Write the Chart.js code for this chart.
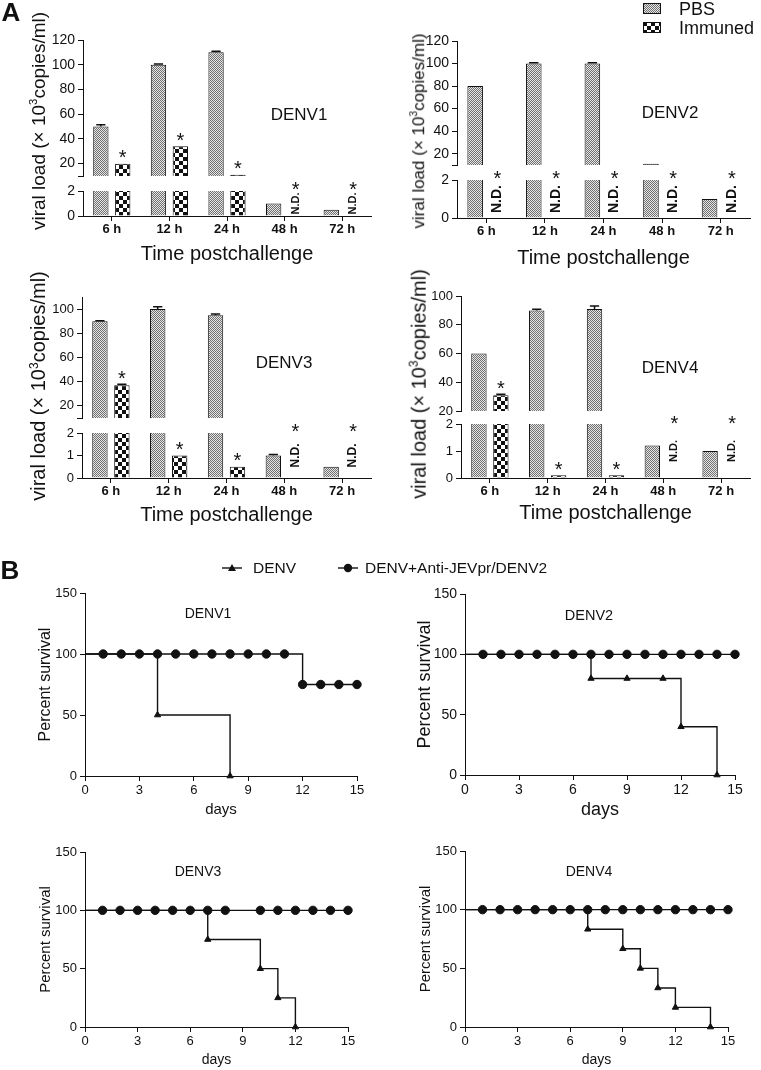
<!DOCTYPE html>
<html>
<head>
<meta charset="utf-8">
<script src="https://cdn.jsdelivr.net/npm/chart.js@4.4.0/dist/chart.umd.min.js"></script>
<style>
  body { margin: 0; width: 761px; height: 1070px; background: #fff; position: relative; overflow: hidden;
         font-family: "Liberation Sans", Arial, Helvetica, sans-serif; color: #111; }
  canvas { position: absolute; }
  .txt { position: absolute; white-space: nowrap; line-height: 1; }
  .txt sup { font-size: 0.6em; }
</style>
</head>
<body>
<script>
// ---- panel A: viral load (x10^3 copies/ml); null = not detected (N.D.)
const hours = ['6 h', '12 h', '24 h', '48 h', '72 h'];
const pbs1 = [50, 100, 110, 1, 0.5];
const imm1 = [20, 34, 11, null, null];
const pbs1Err = [1.5, 0.6, 0.8, 0, 0];
const imm1Err = [0, 0, 0, 0, 0];
const pbs2 = [80, 100, 100, 11, 1];
const imm2 = [null, null, null, null, null];
const pbs2Err = [0, 0.8, 0.8, 0, 0];
const imm2Err = [0, 0, 0, 0, 0];
const pbs3 = [90, 100, 95, 1, 0.5];
const imm3 = [37, 1, 0.5, null, null];
const pbs3Err = [0.4, 2, 1, 0.04, 0];
const imm3Err = [0.8, 0, 0, 0, 0];
const pbs4 = [60, 90, 91, 1.2, 1];
const imm4 = [31, 0.1, 0.1, null, null];
const pbs4Err = [0, 0.7, 2, 0, 0];
const imm4Err = [0.6, 0, 0, 0, 0];
const sigAll = [true, true, true, true, true];
const upTicks12 = [20, 40, 60, 80, 100, 120];
const upTicks3 = [20, 40, 60, 80, 100];
const upTicks4 = [20, 40, 60, 80, 100];
const upRange12 = [10, 120];
const upRange3 = [10, 110];
const upRange4 = [20, 100];
const lowTicks = [0, 1, 2];

// ---- panel B: percent survival
const dayTicks = [0, 3, 6, 9, 12, 15];
const survTicks = [0, 50, 100, 150];
const b1DenvDays = [0, 1, 2, 3, 4, 8];
const b1Denv = [100, 100, 100, 100, 50, 0];
const b1AntiDays = [0, 1, 2, 3, 4, 5, 6, 7, 8, 9, 10, 11, 12, 13, 14, 15];
const b1Anti = [100, 100, 100, 100, 100, 100, 100, 100, 100, 100, 100, 100, 75, 75, 75, 75];
const b2DenvDays = [0, 1, 2, 3, 4, 7, 9, 11, 12, 14];
const b2Denv = [100, 100, 100, 100, 100, 80, 80, 80, 40, 0];
const b2AntiDays = [0, 1, 2, 3, 4, 5, 6, 7, 8, 9, 10, 11, 12, 13, 14, 15];
const b2Anti = [100, 100, 100, 100, 100, 100, 100, 100, 100, 100, 100, 100, 100, 100, 100, 100];
const b3DenvDays = [0, 1, 2, 3, 4, 5, 6, 7, 10, 11, 12];
const b3Denv = [100, 100, 100, 100, 100, 100, 100, 75, 50, 25, 0];
const b3AntiDays = [0, 1, 2, 3, 4, 5, 6, 7, 8, 10, 11, 12, 13, 14, 15];
const b3Anti = [100, 100, 100, 100, 100, 100, 100, 100, 100, 100, 100, 100, 100, 100, 100];
const b4DenvDays = [0, 1, 2, 3, 4, 5, 6, 7, 9, 10, 11, 12, 14];
const b4Denv = [100, 100, 100, 100, 100, 100, 100, 83.3, 66.7, 50, 33.3, 16.7, 0];
const b4AntiDays = [0, 1, 2, 3, 4, 5, 6, 7, 8, 9, 10, 11, 12, 13, 14, 15];
const b4Anti = [100, 100, 100, 100, 100, 100, 100, 100, 100, 100, 100, 100, 100, 100, 100, 100];

const ink = '#111';
Chart.defaults.font.family = '"Liberation Sans", Arial, Helvetica, sans-serif';
Chart.defaults.color = ink;

const axisGrid = { display: true, drawOnChartArea: false, drawTicks: true, tickLength: 5, color: ink, lineWidth: 1 };
const axisBorder = { display: true, color: ink, width: 1 };

function tile(kind) {
  const c = document.createElement('canvas');
  const g = c.getContext('2d');
  if (kind === 'pbs') {
    c.width = c.height = 2;
    g.fillStyle = '#e6e6e6'; g.fillRect(0, 0, 2, 2);
    g.fillStyle = '#707070'; g.fillRect(0, 0, 1, 1); g.fillRect(1, 1, 1, 1);
  } else {
    c.width = c.height = 8;
    g.fillStyle = '#fff'; g.fillRect(0, 0, 8, 8);
    g.fillStyle = ink; g.fillRect(0, 0, 4, 4); g.fillRect(4, 4, 4, 4);
  }
  return c;
}
const pbsTile = tile('pbs');
const immTile = tile('imm');

function addCanvas(x, y, w, h) {
  const cv = document.createElement('canvas');
  cv.width = w; cv.height = h;
  cv.style.left = x + 'px'; cv.style.top = y + 'px';
  document.body.appendChild(cv);
  return cv;
}

function label(html, x, y, size, opts = {}) {
  const d = document.createElement('div');
  d.className = 'txt';
  d.innerHTML = html;
  d.style.left = x + 'px';
  d.style.top = y + 'px';
  d.style.fontSize = size + 'px';
  if (opts.bold) d.style.fontWeight = 'bold';
  const tr = opts.left ? 'translate(0,-50%)' : 'translate(-50%,-50%)';
  d.style.transform = tr + (opts.rot ? ' rotate(-90deg)' : '');
  document.body.appendChild(d);
}

// error caps, asterisks and N.D. marks for the broken-axis bar panels
function marks(p, part) {
  const lowMax = lowTicks[lowTicks.length - 1];
  const inPart = v => (part === 'up' ? v > lowMax : v <= lowMax);
  return {
    id: 'marks',
    afterDatasetsDraw(chart) {
      const g = chart.ctx, ys = chart.scales.y, area = chart.chartArea;
      g.save();
      g.fillStyle = ink; g.strokeStyle = ink; g.lineWidth = 1.5;
      [[p.pbs, p.pbsErr], [p.imm, p.immErr]].forEach(([vals, errs], di) => {
        const bars = chart.getDatasetMeta(di).data;
        vals.forEach((v, i) => {
          const b = bars[i];
          if (v !== null && errs[i] > 0 && inPart(v)) {
            const y0 = ys.getPixelForValue(v), y1 = ys.getPixelForValue(v + errs[i]);
            const hw = b.width * 0.3;
            g.beginPath();
            g.moveTo(b.x, y0); g.lineTo(b.x, y1);
            g.moveTo(b.x - hw, y1); g.lineTo(b.x + hw, y1);
            g.stroke();
          }
          if (di !== 1) return;
          if (p.sig[i]) {
            let sy = null;
            if (v === null) { if (part === 'low') sy = area.top - p.gap / 2; }
            else if (inPart(v)) sy = ys.getPixelForValue(v + errs[i]) - 11.5;
            if (sy !== null) {
              g.font = '20px "Liberation Sans", Arial';
              g.textAlign = 'center'; g.textBaseline = 'alphabetic';
              g.fillText('*', b.x, sy + 12);
            }
          }
          if (v === null && part === 'low') {
            g.save();
            g.translate(b.x, (area.top + area.bottom) / 2);
            g.rotate(-Math.PI / 2);
            g.font = 'bold ' + p.ndSize + 'px "Liberation Sans", Arial';
            g.textAlign = 'center'; g.textBaseline = 'middle';
            g.fillText('N.D.', 0, 0);
            g.restore();
          }
        });
      });
      g.restore();
    }
  };
}

function loadChart(p, part) {
  const YW = 40, PT = 15, PR = 10, XH = 55;
  const up = part === 'up';
  const top = up ? p.uTop : p.lTop, bot = up ? p.uBot : p.lBot;
  const cv = addCanvas(p.ax - YW, top - PT, p.ar - p.ax + YW + PR, bot - top + PT + (up ? 15 : XH));
  const g = cv.getContext('2d');
  const range = up ? p.upRange : [lowTicks[0], lowTicks[lowTicks.length - 1]];
  const shown = up ? p.upTicks : lowTicks;
  const barStyle = { borderColor: ink, borderWidth: 1, clip: 0, categoryPercentage: 0.76, barPercentage: 0.7 };
  new Chart(cv, {
    type: 'bar',
    data: {
      labels: hours,
      datasets: [
        Object.assign({ label: 'PBS', data: p.pbs, backgroundColor: g.createPattern(pbsTile, 'repeat') }, barStyle),
        Object.assign({ label: 'Immuned', data: p.imm, backgroundColor: g.createPattern(immTile, 'repeat') }, barStyle)
      ]
    },
    options: {
      responsive: false,
      animation: false,
      events: [],
      layout: { padding: { left: 0, right: PR, top: PT, bottom: up ? 15 : 0 } },
      plugins: { legend: { display: false }, tooltip: { enabled: false }, colors: { enabled: false } },
      scales: {
        x: {
          display: !up,
          offset: true,
          grid: Object.assign({}, axisGrid, { offset: false }),
          border: axisBorder,
          ticks: { font: { size: 13, weight: 'bold' }, padding: 1, autoSkip: false, maxRotation: 0 },
          title: { display: true, text: 'Time postchallenge', font: { size: 20 },
                   padding: { top: 0, bottom: XH - p.titleD - 20 * 0.6 } },
          afterFit: up ? undefined : s => { s.height = XH; }
        },
        y: {
          min: range[0], max: range[1],
          grid: axisGrid,
          border: axisBorder,
          ticks: { font: { size: p.tickSize }, padding: 3, callback: v => (shown.includes(v) ? v : '') },
          afterBuildTicks: s => {
            s.ticks = [range[0]].concat(shown.filter(v => v !== range[0])).map(v => ({ value: v }));
          },
          afterFit: s => { s.width = YW; }
        }
      }
    },
    plugins: [marks(p, part)]
  });
}

function survChart(q) {
  const YW = 60, PT = 12, PR = 14, XH = 45;
  const cv = addCanvas(q.left - YW, q.top - PT, q.right - q.left + YW + PR, q.bottom - q.top + PT + XH);
  const pts = (days, vals) => days.map((d, i) => ({ x: d, y: vals[i] }));
  const radius = r => c => (c.raw && c.raw.x === 0 ? 0 : r);
  const lineStyle = { stepped: 'before', borderColor: ink, borderWidth: 1.4, backgroundColor: ink,
                      pointBorderColor: ink, pointBackgroundColor: ink, pointBorderWidth: 1, clip: false, tension: 0 };
  new Chart(cv, {
    type: 'line',
    data: {
      datasets: [
        Object.assign({ label: 'DENV', data: pts(q.denvDays, q.denv), pointStyle: 'triangle', pointRadius: radius(3.6), order: 1 }, lineStyle),
        Object.assign({ label: 'DENV+Anti-JEVpr/DENV2', data: pts(q.antiDays, q.anti), pointStyle: 'circle', pointRadius: radius(4.2), order: 0 }, lineStyle)
      ]
    },
    options: {
      responsive: false,
      animation: false,
      events: [],
      layout: { padding: { left: 0, right: PR, top: PT, bottom: 0 } },
      plugins: { legend: { display: false }, tooltip: { enabled: false }, colors: { enabled: false } },
      scales: {
        x: {
          type: 'linear', min: 0, max: 15,
          grid: axisGrid, border: axisBorder,
          afterBuildTicks: s => { s.ticks = dayTicks.map(v => ({ value: v })); },
          ticks: { font: { size: q.tickSize }, padding: 2 },
          title: { display: true, text: 'days', font: { size: q.xSize },
                   padding: { top: 0, bottom: XH - q.xD - q.xSize * 0.6 } },
          afterFit: s => { s.height = XH; }
        },
        y: {
          min: 0, max: 150,
          grid: axisGrid, border: axisBorder,
          afterBuildTicks: s => { s.ticks = survTicks.map(v => ({ value: v })); },
          ticks: { font: { size: q.tickSize }, padding: 3 },
          title: { display: true, text: 'Percent survival', font: { size: q.ySize },
                   padding: { top: YW - q.yD - q.ySize * 0.6, bottom: 0 } },
          afterFit: s => { s.width = YW; }
        }
      }
    }
  });
}

const panelsA = [
  { name: 'DENV1', pbs: pbs1, imm: imm1, pbsErr: pbs1Err, immErr: imm1Err, sig: sigAll,
    upTicks: upTicks12, upRange: upRange12, ax: 83, ar: 371, uTop: 40, uBot: 176, lTop: 191, lBot: 216,
    tickSize: 14, titleD: 38, ndSize: 11, yt: [38, 121, 19], nl: [299, 114] },
  { name: 'DENV2', pbs: pbs2, imm: imm2, pbsErr: pbs2Err, immErr: imm2Err, sig: sigAll,
    upTicks: upTicks12, upRange: upRange12, ax: 457, ar: 750, uTop: 41, uBot: 165, lTop: 180, lBot: 218,
    tickSize: 14, titleD: 40, ndSize: 14, yt: [418, 131, 17], nl: [670, 112] },
  { name: 'DENV3', pbs: pbs3, imm: imm3, pbsErr: pbs3Err, immErr: imm3Err, sig: sigAll,
    upTicks: upTicks3, upRange: upRange3, ax: 82, ar: 371, uTop: 297, uBot: 418, lTop: 433, lBot: 478,
    tickSize: 13, titleD: 37, ndSize: 12, yt: [38, 386, 20], nl: [284, 362] },
  { name: 'DENV4', pbs: pbs4, imm: imm4, pbsErr: pbs4Err, immErr: imm4Err, sig: sigAll,
    upTicks: upTicks4, upRange: upRange4, ax: 461, ar: 750, uTop: 296, uBot: 411, lTop: 424, lBot: 478,
    tickSize: 13, titleD: 35, ndSize: 11, yt: [418, 384, 20], nl: [670, 367] }
];

panelsA.forEach(p => {
  p.gap = p.lTop - p.uBot;
  loadChart(p, 'up');
  loadChart(p, 'low');
  label('viral load (× 10<sup>3</sup>copies/ml)', p.yt[0], p.yt[1], p.yt[2], { rot: true });
  label(p.name, p.nl[0], p.nl[1], 17);
});

const panelsB = [
  { name: 'DENV1', denvDays: b1DenvDays, denv: b1Denv, antiDays: b1AntiDays, anti: b1Anti,
    left: 85, right: 357, top: 593, bottom: 776, tickSize: 13, xSize: 15, xD: 34, ySize: 16, yD: 39, nl: [208, 613, 14] },
  { name: 'DENV2', denvDays: b2DenvDays, denv: b2Denv, antiDays: b2AntiDays, anti: b2Anti,
    left: 465, right: 735, top: 594, bottom: 775, tickSize: 14, xSize: 18, xD: 35, ySize: 18, yD: 40, nl: [589, 615, 14.5] },
  { name: 'DENV3', denvDays: b3DenvDays, denv: b3Denv, antiDays: b3AntiDays, anti: b3Anti,
    left: 85, right: 348, top: 852, bottom: 1027, tickSize: 13, xSize: 14, xD: 33, ySize: 15, yD: 39, nl: [198, 871, 14] },
  { name: 'DENV4', denvDays: b4DenvDays, denv: b4Denv, antiDays: b4AntiDays, anti: b4Anti,
    left: 465, right: 728, top: 851, bottom: 1027, tickSize: 13, xSize: 14, xD: 33, ySize: 15, yD: 39, nl: [589, 871, 14] }
];

panelsB.forEach(q => {
  survChart(q);
  label(q.name, q.nl[0], q.nl[1], q.nl[2]);
});

// panel letters
label('A', 11, 12, 26, { bold: true });
label('B', 10, 570, 26, { bold: true });

// legend A (pattern swatches)
[['PBS', pbsTile, 9], ['Immuned', immTile, 28]].forEach(([name, t, y]) => {
  const cv = addCanvas(643, y - 6, 18, 11);
  const g = cv.getContext('2d');
  g.fillStyle = g.createPattern(t, 'repeat');
  g.fillRect(0, 0, 18, 11);
  g.strokeStyle = ink; g.lineWidth = 1;
  g.strokeRect(0.5, 0.5, 17, 10);
  label(name, 679, y, 18, { left: true });
});

// legend B (line + marker icons)
[['DENV', 'triangle', 222, 253], ['DENV+Anti-JEVpr/DENV2', 'circle', 338, 365]].forEach(([name, shape, x, tx]) => {
  const cv = addCanvas(x, 561, 20, 14);
  const g = cv.getContext('2d');
  g.strokeStyle = ink; g.fillStyle = ink; g.lineWidth = 1.4;
  g.beginPath(); g.moveTo(0, 7); g.lineTo(20, 7); g.stroke();
  g.beginPath();
  if (shape === 'triangle') { g.moveTo(10, 3); g.lineTo(14, 10); g.lineTo(6, 10); g.closePath(); }
  else { g.arc(10, 7, 4.2, 0, Math.PI * 2); }
  g.fill();
  label(name, tx, 568, 15.5, { left: true });
});
</script>
</body>
</html>
